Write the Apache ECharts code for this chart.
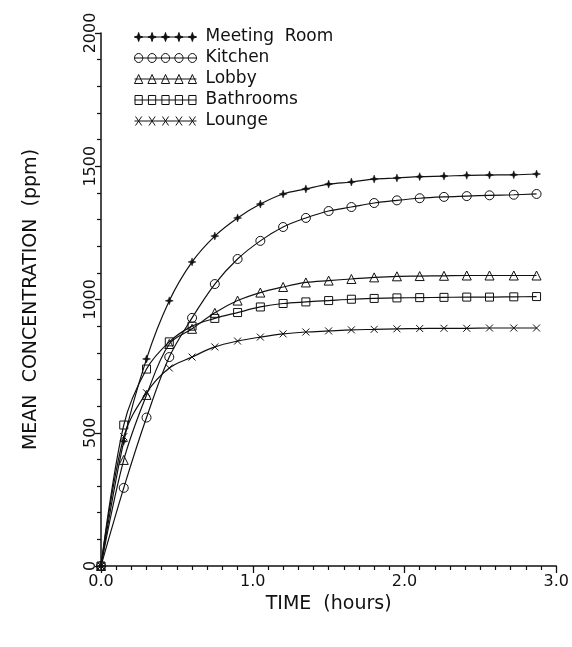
<!DOCTYPE html>
<html>
<head>
<meta charset="utf-8">
<script src="https://cdn.jsdelivr.net/npm/echarts@6/dist/echarts.min.js"></script>
<style>
  html, body { margin: 0; padding: 0; background: #fff; }
  #main { width: 572px; height: 647px; }
</style>
</head>
<body>
<div id="main"></div>
<script>
// time (hours) of each sample
var times = [0, 0.15, 0.30, 0.45, 0.60, 0.75, 0.90, 1.05, 1.20, 1.35, 1.50, 1.65, 1.80, 1.95, 2.10, 2.26, 2.41, 2.56, 2.72, 2.87];

// mean concentration (ppm)
var meetingRoom = [0, 468, 777, 995, 1141, 1238, 1306, 1358, 1396, 1415, 1433, 1441, 1452, 1456, 1461, 1463, 1466, 1467, 1468, 1471];
var kitchen     = [0, 293, 557, 784, 931, 1058, 1152, 1220, 1272, 1306, 1332, 1347, 1362, 1372, 1380, 1385, 1388, 1391, 1393, 1396];
var lobby       = [0, 398, 642, 833, 890, 950, 996, 1026, 1047, 1064, 1071, 1077, 1083, 1087, 1088, 1089, 1090, 1090, 1090, 1090];
var bathrooms   = [0, 529, 739, 841, 900, 929, 951, 972, 985, 991, 996, 1001, 1004, 1006, 1007, 1008, 1009, 1009, 1010, 1011];
var lounge      = [0, 485, 650, 743, 784, 822, 844, 859, 871, 878, 882, 886, 888, 890, 891, 892, 892, 893, 893, 893];

var seriesNames = ['Meeting  Room', 'Kitchen', 'Lobby', 'Bathrooms', 'Lounge'];
var xTicks = ['0.0', '1.0', '2.0', '3.0'];

var ink = '#111';
var font = 'DejaVu Sans';

function pairs(vals) {
  return times.map(function (t, i) { return [t, vals[i]]; });
}

// legend icons: a short line with five markers
var cxs = [4, 17, 30, 43, 56];
var baseLine = 'M0,5L60,5';
var iconStar = 'path://' + baseLine + cxs.map(function (c) {
  return 'M' + c + ',1L' + (c + 1) + ',4L' + (c + 4) + ',5L' + (c + 1) + ',6L' + c + ',9L' + (c - 1) + ',6L' + (c - 4) + ',5L' + (c - 1) + ',4Z';
}).join('');
var iconCircle = 'path://' + baseLine + cxs.map(function (c) {
  return 'M' + (c - 4) + ',5A4,4 0 1,0 ' + (c + 4) + ',5A4,4 0 1,0 ' + (c - 4) + ',5Z';
}).join('');
var iconTri = 'path://' + baseLine + cxs.map(function (c) {
  return 'M' + (c - 4) + ',9L' + c + ',1L' + (c + 4) + ',9Z';
}).join('');
var iconRect = 'path://' + baseLine + cxs.map(function (c) {
  return 'M' + (c - 3.5) + ',1L' + (c + 3.5) + ',1L' + (c + 3.5) + ',9L' + (c - 3.5) + ',9Z';
}).join('');
var iconCross = 'path://' + baseLine + cxs.map(function (c) {
  return 'M' + (c - 3) + ',1L' + (c + 3) + ',9M' + (c - 3) + ',9L' + (c + 3) + ',1';
}).join('');

var hollow = { color: 'transparent', borderColor: ink, borderWidth: 1 };

function makeSeries(name, vals, symbol, size, itemStyle) {
  return {
    name: name,
    type: 'line',
    data: pairs(vals),
    smooth: 0.35,
    symbol: symbol,
    symbolSize: size,
    showAllSymbol: true,
    lineStyle: { color: ink, width: 1.2 },
    itemStyle: itemStyle,
    emphasis: { disabled: true },
    animation: false
  };
}

var chart = echarts.init(document.getElementById('main'), null, { renderer: 'canvas' });

var option = {
  backgroundColor: '#fff',
  animation: false,
  grid: { left: 101, right: 12, top: 33, bottom: 81 },
  legend: {
    orient: 'vertical',
    left: 129,
    top: 23,
    itemWidth: 62,
    itemHeight: 9,
    itemGap: 3,
    symbolKeepAspect: false,
    textStyle: { fontFamily: font, fontSize: 17, color: ink, padding: [0, 0, 0, 4], lineHeight: 18 },
    data: [
      { name: seriesNames[0], icon: iconStar, itemStyle: { color: ink, borderColor: ink, borderWidth: 1 } },
      { name: seriesNames[1], icon: iconCircle, itemStyle: hollow },
      { name: seriesNames[2], icon: iconTri, itemStyle: hollow },
      { name: seriesNames[3], icon: iconRect, itemStyle: hollow },
      { name: seriesNames[4], icon: iconCross, itemStyle: hollow }
    ]
  },
  xAxis: {
    type: 'value',
    min: 0,
    max: 3,
    interval: 1,
    name: 'TIME  (hours)',
    nameLocation: 'middle',
    nameGap: 27,
    nameTextStyle: { fontFamily: font, fontSize: 19, color: ink },
    axisLine: { lineStyle: { color: ink, width: 1.5 } },
    axisTick: { length: 7, lineStyle: { color: ink, width: 1.3 } },
    minorTick: { show: true, splitNumber: 10, length: 4, lineStyle: { color: ink, width: 1.2 } },
    splitLine: { show: false },
    axisLabel: {
      fontFamily: font, fontSize: 16, color: ink, margin: 8,
      formatter: function (v) { return xTicks[Math.round(v)]; }
    }
  },
  yAxis: {
    type: 'value',
    min: 0,
    max: 2000,
    interval: 500,
    name: 'MEAN  CONCENTRATION  (ppm)',
    nameLocation: 'middle',
    nameGap: 60,
    nameRotate: 90,
    nameTextStyle: { fontFamily: font, fontSize: 19, color: ink },
    axisLine: { show: true, lineStyle: { color: ink, width: 1.5 } },
    axisTick: { show: true, length: 6, lineStyle: { color: ink, width: 1.3 } },
    minorTick: { show: true, splitNumber: 5, length: 4, lineStyle: { color: ink, width: 1.2 } },
    splitLine: { show: false },
    axisLabel: {
      fontFamily: font, fontSize: 16, color: ink, rotate: 90, margin: 2,
      formatter: function (v) { return String(v); }
    }
  },
  series: [
    makeSeries(seriesNames[0], meetingRoom, 'path://M0,-5L1.3,-1.3L5,0L1.3,1.3L0,5L-1.3,1.3L-5,0L-1.3,-1.3Z', 8, { color: ink, borderColor: ink, borderWidth: 0.5 }),
    makeSeries(seriesNames[1], kitchen, 'circle', 9, hollow),
    makeSeries(seriesNames[2], lobby, 'triangle', 9, hollow),
    makeSeries(seriesNames[3], bathrooms, 'rect', 8, hollow),
    makeSeries(seriesNames[4], lounge, 'path://M-3,-4L3,4M-3,4L3,-4', 7, hollow)
  ]
};

chart.setOption(option);
window.addEventListener('resize', function () {
  chart.resize();
});
</script>
</body>
</html>
